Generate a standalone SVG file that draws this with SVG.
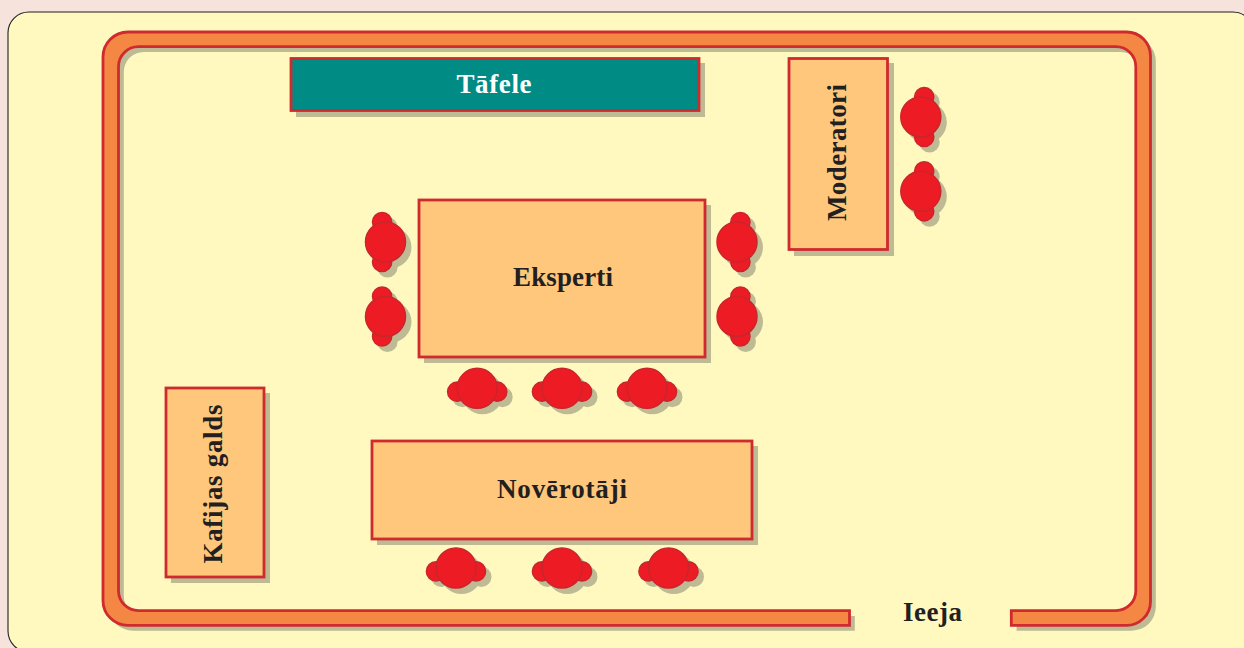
<svg xmlns="http://www.w3.org/2000/svg" width="1244" height="648" viewBox="0 0 1244 648">
<style>
.sh{fill:#bdba94;stroke:none}
.wall{fill:#f58744;stroke:#cf2a2e;stroke-width:2.800;stroke-linejoin:miter}
.tbl{fill:#fec77c;stroke:#cf2a2e;stroke-width:2.800}
.teal{fill:#008c85;stroke:#cf2a2e;stroke-width:2.800}
.st{fill:#ed1c24;stroke:#c9252d;stroke-width:1.500}
text{font-family:"Liberation Serif","Times New Roman",serif;font-weight:700;font-size:27px;fill:#231f20;text-anchor:middle}
</style>
<defs>
<path id="wallp" d="M849.5 625.4H128A25 25 0 0 1 103 600.4V57A25 25 0 0 1 128 32H1126.5A24 24 0 0 1 1150.5 56V601.4A24 24 0 0 1 1126.5 625.4H1011.3V610.7H1115.800A20 20 0 0 0 1135.8 590.7V66.700A20 20 0 0 0 1115.800 46.700H138.500A20 20 0 0 0 118.500 66.700V590.7A20 20 0 0 0 138.500 610.7H849.500Z"/>
<g id="seatH">
<g transform="translate(5.300 5.300)" class="sh"><circle cx="-20" cy="3.400" r="10.200"/><circle cx="20" cy="3.400" r="10.200"/><circle r="20.700"/></g>
<g class="st"><circle cx="-20" cy="3.400" r="9.600"/><circle cx="20" cy="3.400" r="9.600"/><circle r="20"/></g>
</g>
<g id="seatV">
<g transform="translate(5.300 5.300)" class="sh"><circle cx="3.400" cy="-20" r="10.200"/><circle cx="3.400" cy="20" r="10.200"/><circle r="20.700"/></g>
<g class="st"><circle cx="3.400" cy="-20" r="9.600"/><circle cx="3.400" cy="20" r="9.600"/><circle r="20"/></g>
</g>
<g id="seatVL">
<g transform="translate(5.300 5.300)" class="sh"><circle cx="-3.400" cy="-20" r="10.200"/><circle cx="-3.400" cy="20" r="10.200"/><circle r="20.700"/></g>
<g class="st"><circle cx="-3.400" cy="-20" r="9.600"/><circle cx="-3.400" cy="20" r="9.600"/><circle r="20"/></g>
</g>
</defs>
<rect width="1244" height="648" fill="#f5e3dc"/>
<rect id="panel" x="8" y="12" width="1246" height="640" rx="21" fill="#fff9c0" stroke="#231f20" stroke-width="1.100"/>
<g id="walls">
<use href="#wallp" class="sh" transform="translate(5.300 5.300)"/>
<use href="#wallp" class="wall"/>
</g>
<g id="connectors"/>
<g id="tafele">
<rect class="sh" x="296" y="63" width="409" height="54"/>
<rect class="teal" x="291" y="58.500" width="408" height="52"/>
<text x="494" y="93" style="fill:#fff" textLength="75">Tāfele</text>
</g>
<g id="moderatori">
<rect class="sh" x="794" y="63" width="100" height="193"/>
<rect class="tbl" x="789" y="58.500" width="98.500" height="191"/>
<text transform="translate(846 152.500) rotate(-90)" textLength="137">Moderatori</text>
</g>
<g id="eksperti">
<rect class="sh" x="424" y="205" width="287" height="158"/>
<rect class="tbl" x="419" y="200" width="286" height="157"/>
<text x="563" y="286" textLength="100">Eksperti</text>
</g>
<g id="noverotaji">
<rect class="sh" x="377" y="446" width="381" height="99"/>
<rect class="tbl" x="372" y="441" width="380" height="98"/>
<text x="562" y="498" textLength="130">Novērotāji</text>
</g>
<g id="kafijas-galds">
<rect class="sh" x="171" y="393" width="99" height="190"/>
<rect class="tbl" x="166" y="388" width="98" height="189"/>
<text transform="translate(222 484) rotate(-90)" textLength="159">Kafijas galds</text>
</g>
<g id="ieeja"><text x="932.500" y="621" textLength="59">Ieeja</text></g>
<g id="seats-moderatori">
<use href="#seatV" x="920.800" y="117"/>
<use href="#seatV" x="920.800" y="191.300"/>
</g>
<g id="seats-eksperti">
<use href="#seatVL" x="385.500" y="242"/>
<use href="#seatVL" x="385.500" y="316.500"/>
<use href="#seatV" x="737" y="242"/>
<use href="#seatV" x="737" y="316.500"/>
<use href="#seatH" x="477.200" y="388.300"/>
<use href="#seatH" x="562" y="388.300"/>
<use href="#seatH" x="647" y="388.300"/>
</g>
<g id="seats-noverotaji">
<use href="#seatH" x="456" y="568"/>
<use href="#seatH" x="562" y="568"/>
<use href="#seatH" x="668.500" y="568"/>
</g>
</svg>
